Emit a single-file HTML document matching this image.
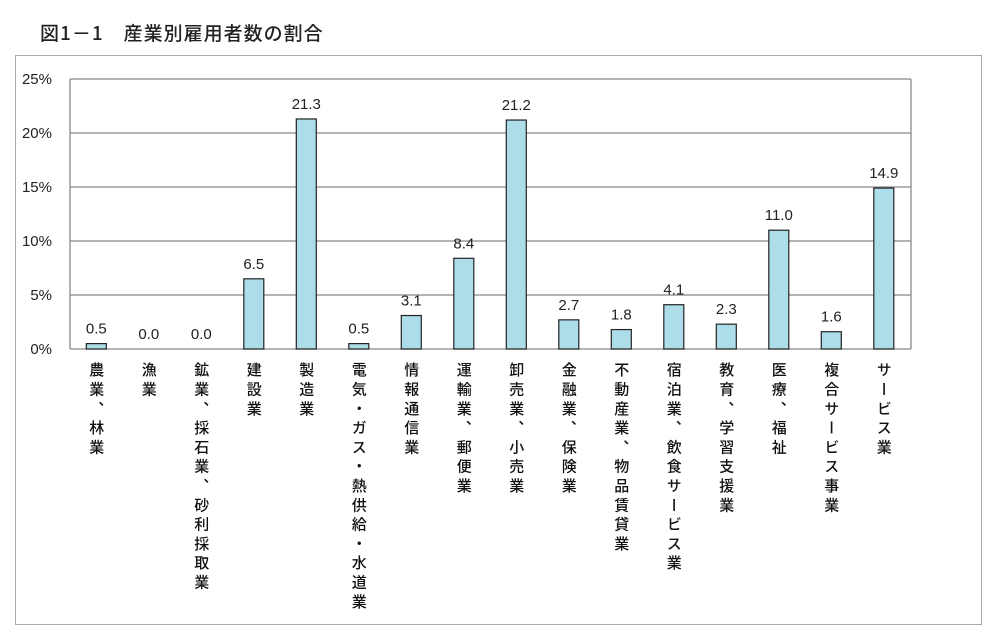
<!DOCTYPE html>
<html><head><meta charset="utf-8"><style>
body{margin:0;width:1000px;height:638px;background:#fff;position:relative;overflow:hidden;font-family:"Liberation Sans","Noto Sans CJK JP",sans-serif;}
.t{position:absolute;left:40px;top:19px;font-size:19px;font-weight:500;color:#222;letter-spacing:1px;font-family:"Noto Sans CJK JP",sans-serif;}
.box{position:absolute;left:15px;top:55px;width:967px;height:570px;border:1px solid #aaa;box-sizing:border-box;}
.lab{position:absolute;top:362px;writing-mode:vertical-rl;font-size:15px;font-weight:500;letter-spacing:4.3px;color:#111;font-family:"Noto Sans CJK JP",sans-serif;line-height:16px;}
</style></head><body>
<div class="t">図1－1　産業別雇用者数の割合</div>
<div class="box"></div>
<svg width="1000" height="638" style="position:absolute;left:0;top:0" font-family="Liberation Sans, DejaVu Sans, sans-serif">
<g stroke="#888" stroke-width="1.3">
<line x1="70" y1="79" x2="911" y2="79"/><line x1="70" y1="133" x2="911" y2="133"/><line x1="70" y1="187" x2="911" y2="187"/><line x1="70" y1="241" x2="911" y2="241"/><line x1="70" y1="295" x2="911" y2="295"/>
<line x1="70" y1="349" x2="911" y2="349"/><line x1="70" y1="79" x2="70" y2="349"/><line x1="911" y1="79" x2="911" y2="349"/>
</g>
<g font-size="15" fill="#222" text-anchor="end">
<text x="52" y="84">25%</text><text x="52" y="138">20%</text><text x="52" y="192">15%</text><text x="52" y="246">10%</text><text x="52" y="300">5%</text><text x="52" y="354">0%</text>
</g>
<g id="bars" fill="#acdde8" stroke="#222" stroke-width="1.2"></g>
<g id="vals" font-size="15" fill="#222" text-anchor="middle"></g>
</svg>
<div id="labs"></div>
<script>
var v=[0.5,0,0,6.5,21.3,0.5,3.1,8.4,21.2,2.7,1.8,4.1,2.3,11.0,1.6,14.9];
var l=["農業、林業","漁業","鉱業、採石業、砂利採取業","建設業","製造業","電気・ガス・熱供給・水道業","情報通信業","運輸業、郵便業","卸売業、小売業","金融業、保険業","不動産業、物品賃貸業","宿泊業、飲食サービス業","教育、学習支援業","医療、福祉","複合サービス事業","サービス業"];
var b="",t="",h="";
for(var i=0;i<16;i++){var c=96.3+52.5*i;var y=349-v[i]*10.8;
if(v[i]>0)b+='<rect x="'+(c-10)+'" y="'+y+'" width="20" height="'+(349-y)+'"/>';
t+='<text x="'+c+'" y="'+(y-10)+'">'+v[i].toFixed(1)+'</text>';
h+='<div class="lab" style="left:'+(c-8)+'px">'+l[i]+'</div>';}
document.getElementById("bars").innerHTML=b;document.getElementById("vals").innerHTML=t;document.getElementById("labs").innerHTML=h;
</script>
</body></html>
